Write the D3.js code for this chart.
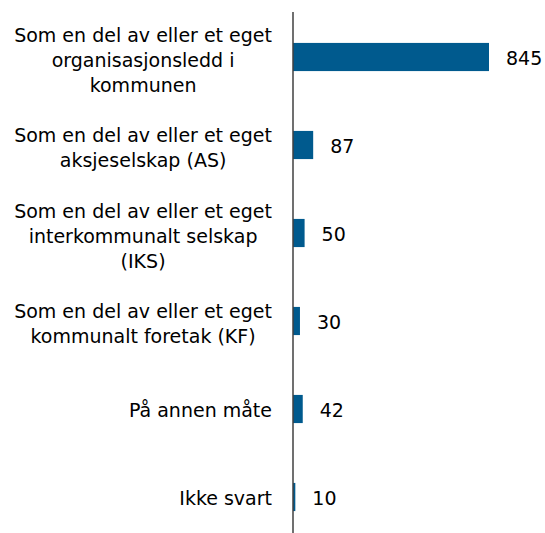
<!DOCTYPE html>
<html>
<head>
<meta charset="utf-8">
<script src="https://cdn.jsdelivr.net/npm/d3@7"></script>
<style>
  body { margin: 0; background: #fff; }
  svg { display: block; font-family: "DejaVu Sans", sans-serif; }
</style>
</head>
<body>
<svg id="chart"></svg>
<script>
// data
const categories = [
  ["Som en del av eller et eget", "organisasjonsledd i", "kommunen"],
  ["Som en del av eller et eget", "aksjeselskap (AS)"],
  ["Som en del av eller et eget", "interkommunalt selskap", "(IKS)"],
  ["Som en del av eller et eget", "kommunalt foretak (KF)"],
  ["På annen måte"],
  ["Ikke svart"]
];
const values = [845, 87, 50, 30, 42, 10];

const w = 545, h = 533;
const x0 = 293, labelRight = 272;
const fs = 19;

const svg = d3.select('#chart')
  .attr('width', w)
  .attr('height', h);

const ids = d3.range(values.length);

const xScale = d3.scaleLinear()
  .domain([0, 845])
  .range([x0, 489]);

const yScale = d3.scaleBand()
  .domain(ids)
  .range([13, 541])
  .paddingInner(0.68)
  .paddingOuter(0.34);

svg.selectAll('rect.bar')
  .data(values)
  .enter()
  .append('rect')
  .attr('class', 'bar')
  .attr('x', xScale(0))
  .attr('y', (d, i) => yScale(i))
  .attr('width', d => xScale(d) - xScale(0))
  .attr('height', yScale.bandwidth())
  .attr('fill', '#005a8e');

svg.selectAll('text.val')
  .data(values)
  .enter()
  .append('text')
  .attr('class', 'val')
  .attr('x', d => xScale(d) + 17)
  .attr('y', (d, i) => yScale(i) + yScale.bandwidth() / 2 + 1)
  .attr('dy', '0.35em')
  .attr('font-size', fs)
  .attr('fill', '#000')
  .text(d => d);

// category labels: lines centred on each other, block right aligned
const lineH = 25;
categories.forEach((lines, i) => {
  const cy = yScale(i) + yScale.bandwidth() / 2 + (lines.length > 1 ? 3 : 1);
  const g = svg.append('g').attr('class', 'cat');
  const txt = g.selectAll('text')
    .data(lines)
    .enter()
    .append('text')
    .attr('font-size', fs)
    .attr('fill', '#000')
    .attr('text-anchor', 'middle')
    .attr('y', (d, j) => cy + (j - (lines.length - 1) / 2) * lineH)
    .attr('dy', '0.35em')
    .text(d => d);
  const maxW = d3.max(txt.nodes(), n => n.getComputedTextLength());
  txt.attr('x', labelRight - maxW / 2);
});

svg.append('line')
  .attr('x1', x0).attr('x2', x0)
  .attr('y1', 12).attr('y2', h)
  .attr('stroke', '#404040')
  .attr('stroke-width', 1.5);
</script>
</body>
</html>
